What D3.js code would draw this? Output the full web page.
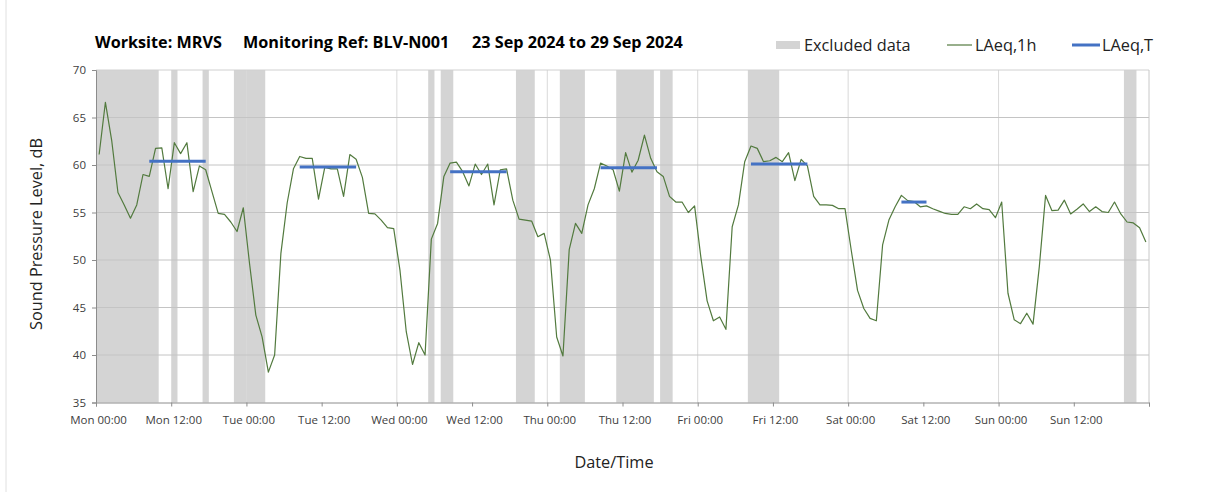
<!DOCTYPE html>
<html lang="en">
  <head>
    <meta charset="UTF-8" />
    <title>Sound Pressure Level - BLV-N001</title>
    <style>
      body {
        margin: 0;
        background: #fff;
        font-family: "Open Sans", "Noto Sans", sans-serif;
      }
      svg {
        display: block;
      }
      .tick-label {
        font-size: 11.5px;
        fill: #404040;
      }
      .title {
        font-size: 16.2px;
        font-weight: bold;
        fill: #000;
      }
      .legend-text {
        font-size: 16.3px;
        fill: #222;
      }
      .axis-title {
        font-size: 16.3px;
        fill: #222;
      }
    </style>
  </head>
  <body>
    <svg width="1208" height="492"></svg>
    <script src="https://d3js.org/d3.v7.min.js"></script>
    <script>
      // hourly LAeq,1h from Mon 00:00 to Sun 23:00
      const laeq1h = [
        61.1, 66.6, 62.6, 57.1, 55.8, 54.4, 55.8, 59.0, 58.8, 61.75, 61.8, 57.5,
        62.35, 61.2, 62.35, 57.2, 59.9, 59.5, 57.2, 54.9, 54.8, 54.0, 53.0, 55.5,
        49.6, 44.2, 41.9, 38.2, 40.0, 50.7, 56.0, 59.6, 60.9, 60.7, 60.7, 56.4,
        59.75, 59.6, 59.6, 56.7, 61.1, 60.6, 58.7, 54.9, 54.85, 54.2, 53.4, 53.3,
        48.9, 42.45, 39.0, 41.3, 40.0, 52.2, 53.85, 58.8, 60.2, 60.3, 59.3, 57.8,
        60.1, 59.0, 60.1, 55.8, 59.5, 59.6, 56.3, 54.3, 54.2, 54.1, 52.45, 52.8,
        50.0, 41.9, 39.9, 51.1, 53.85, 52.8, 55.8, 57.5, 60.2, 59.9, 59.5, 57.25,
        61.3, 59.25, 60.5, 63.15, 60.7, 59.3, 58.8, 56.7, 56.1, 56.1, 55.0, 55.7,
        50.3, 45.7, 43.6, 44.0, 42.7, 53.5, 55.8, 60.35, 62.0, 61.75, 60.35, 60.45,
        60.8, 60.35, 61.3, 58.35, 60.6, 59.9, 56.7, 55.8, 55.8, 55.75, 55.4, 55.4,
        51.0, 46.8, 44.9, 43.85, 43.6, 51.6, 54.2, 55.6, 56.8, 56.25, 56.15, 55.6,
        55.7, 55.4, 55.15, 54.9, 54.8, 54.8, 55.6, 55.4, 55.9, 55.4, 55.3, 54.45,
        56.1, 46.5, 43.7, 43.3, 44.4, 43.25, 49.3, 56.8, 55.2, 55.25, 56.3, 54.85,
        55.35, 55.9, 55.1, 55.6, 55.1, 55.0, 56.1, 54.85, 54.0, 53.9, 53.4, 51.9,
      ];

      // LAeq,T over the working periods (first and last hour index)
      const periodStart = [8, 32, 56, 80, 104, 128];
      const periodEnd = [17, 41, 65, 89, 113, 132];
      const periodValue = [60.4, 59.8, 59.3, 59.7, 60.1, 56.1];

      // excluded data, [from hour, to hour)
      const excluded = [
        [0, 10], [12, 13], [17, 18], [22, 27], [53, 54], [55, 57], [67, 70],
        [74, 78], [83, 89], [90, 92], [104, 109], [164, 166],
      ];

      const days = ["Mon", "Tue", "Wed", "Thu", "Fri", "Sat", "Sun"];
      const times = ["00:00", "12:00"];
      const yTicks = [35, 40, 45, 50, 55, 60, 65, 70];

      const svg = d3.select("svg");
      const plotLeft = 96,
        plotRight = 1149,
        plotTop = 70,
        plotBottom = 402.5;

      const x = d3.scaleLinear().domain([0, 168]).range([plotLeft, plotRight]);
      const y = d3.scaleLinear().domain([35, 70]).range([plotBottom, plotTop]);

      // chart border (left edge only shows)
      svg
        .append("line")
        .attr("x1", 6)
        .attr("x2", 6)
        .attr("y1", 0)
        .attr("y2", 492)
        .attr("stroke", "#e0e0e0");

      // excluded bands
      svg
        .append("g")
        .selectAll("rect")
        .data(excluded)
        .join("rect")
        .attr("x", (d) => x(d[0]))
        .attr("width", (d) => x(d[1]) - x(d[0]))
        .attr("y", plotTop)
        .attr("height", plotBottom - plotTop)
        .attr("fill", "#d4d4d4");

      // gridlines
      svg
        .append("g")
        .selectAll("line")
        .data(d3.range(1, 7))
        .join("line")
        .attr("x1", (d) => x(d * 24))
        .attr("x2", (d) => x(d * 24))
        .attr("y1", plotTop)
        .attr("y2", plotBottom)
        .attr("stroke", "#d9d9d9");

      svg
        .append("g")
        .selectAll("line")
        .data(yTicks.slice(1))
        .join("line")
        .attr("x1", plotLeft)
        .attr("x2", plotRight)
        .attr("y1", (d) => y(d))
        .attr("y2", (d) => y(d))
        .attr("stroke", (d) => (d === 70 ? "#d0d0d0" : "#c4c4c4"));

      svg
        .append("line")
        .attr("x1", plotRight)
        .attr("x2", plotRight)
        .attr("y1", plotTop)
        .attr("y2", plotBottom)
        .attr("stroke", "#c8c8c8");

      // axes
      const xAxis = d3
        .axisBottom(x)
        .tickValues(d3.range(0, 169, 12))
        .tickSize(4)
        .tickFormat((d) =>
          d < 168 ? days[Math.floor(d / 24)] + " " + times[(d % 24) / 12] : ""
        );

      const gx = svg
        .append("g")
        .attr("transform", `translate(0,${plotBottom})`)
        .call(xAxis);
      gx.attr("font-family", null).attr("font-size", null);
      gx.select(".domain").attr("stroke", "#8c8c8c");
      gx.selectAll(".tick line").attr("stroke", "#8c8c8c");
      gx.selectAll(".tick text")
        .attr("class", "tick-label")
        .attr("dy", "1.3em")
        .attr("dx", 2);

      const yAxis = d3.axisLeft(y).tickValues(yTicks).tickSize(4);
      const gy = svg
        .append("g")
        .attr("transform", `translate(${plotLeft},0)`)
        .call(yAxis);
      gy.attr("font-family", null).attr("font-size", null);
      gy.select(".domain").attr("stroke", "#8c8c8c");
      gy.selectAll(".tick line").attr("stroke", "#8c8c8c");
      gy.selectAll(".tick text").attr("class", "tick-label").attr("x", -10);

      // LAeq,1h line
      const line = d3
        .line()
        .x((d, i) => x(i + 0.5))
        .y((d) => y(d));

      svg
        .append("path")
        .datum(laeq1h)
        .attr("d", line)
        .attr("fill", "none")
        .attr("stroke", "#527a3e")
        .attr("stroke-width", 1.2)
        .attr("stroke-linejoin", "round");

      // LAeq,T segments
      svg
        .append("g")
        .selectAll("line")
        .data(periodValue)
        .join("line")
        .attr("x1", (d, i) => x(periodStart[i] + 0.5))
        .attr("x2", (d, i) => x(periodEnd[i] + 0.5))
        .attr("y1", (d) => y(d))
        .attr("y2", (d) => y(d))
        .attr("stroke", "#4472c4")
        .attr("stroke-width", 3);

      // title
      const titleParts = [
        { text: "Worksite: MRVS", x: 95 },
        { text: "Monitoring Ref: BLV-N001", x: 243 },
        { text: "23 Sep 2024 to 29 Sep 2024", x: 472 },
      ];
      svg
        .append("g")
        .selectAll("text")
        .data(titleParts)
        .join("text")
        .attr("class", "title")
        .attr("x", (d) => d.x)
        .attr("y", 48)
        .text((d) => d.text);

      // legend
      const legend = svg.append("g");
      legend
        .append("rect")
        .attr("x", 776)
        .attr("y", 41)
        .attr("width", 24)
        .attr("height", 8)
        .attr("fill", "#d4d4d4");
      legend
        .append("text")
        .attr("class", "legend-text")
        .attr("x", 804)
        .attr("y", 51)
        .text("Excluded data");
      legend
        .append("line")
        .attr("x1", 947)
        .attr("x2", 972)
        .attr("y1", 45)
        .attr("y2", 45)
        .attr("stroke", "#527a3e")
        .attr("stroke-width", 1.2);
      legend
        .append("text")
        .attr("class", "legend-text")
        .attr("x", 975)
        .attr("y", 51)
        .text("LAeq,1h");
      legend
        .append("line")
        .attr("x1", 1072)
        .attr("x2", 1100)
        .attr("y1", 45)
        .attr("y2", 45)
        .attr("stroke", "#4472c4")
        .attr("stroke-width", 3);
      legend
        .append("text")
        .attr("class", "legend-text")
        .attr("x", 1102)
        .attr("y", 51)
        .text("LAeq,T");

      // axis titles
      svg
        .append("text")
        .attr("class", "axis-title")
        .attr("text-anchor", "middle")
        .attr("transform", "translate(42,234) rotate(-90)")
        .text("Sound Pressure Level, dB");

      svg
        .append("text")
        .attr("class", "axis-title")
        .attr("text-anchor", "middle")
        .attr("x", 614)
        .attr("y", 468)
        .text("Date/Time");
    </script>
  </body>
</html>
